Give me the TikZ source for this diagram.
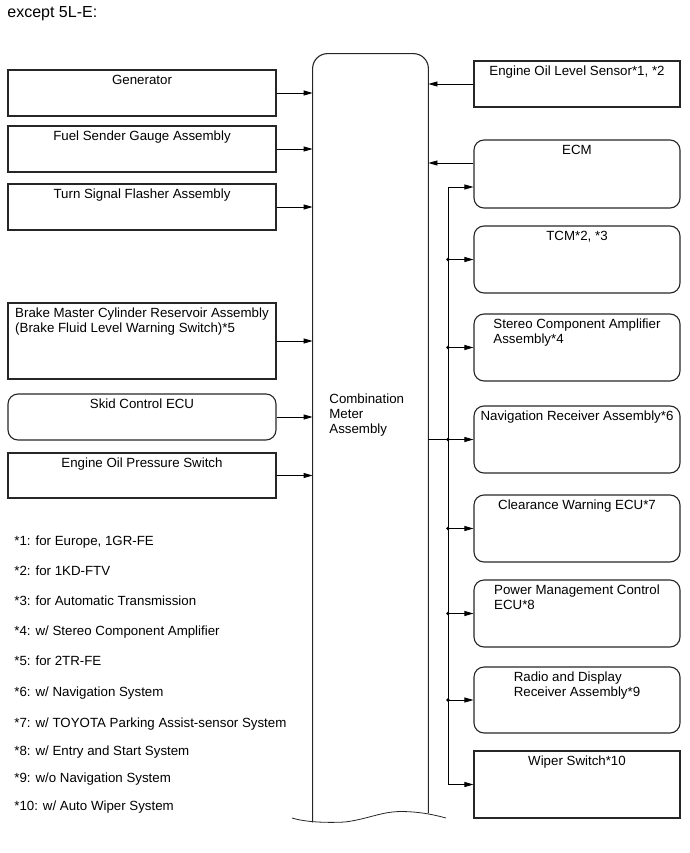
\documentclass[tikz,border=0pt]{standalone}
\usepackage{fontspec}
\setmainfont{Liberation Sans}
\usepackage{tikz}
\usetikzlibrary{arrows.meta,shapes}
\tikzstyle{outline}=[draw=black!85,line width=1.1pt]
\tikzstyle{box}=[outline,minimum height=46pt,inner sep=0pt]

\begin{document}
\begin{tikzpicture}[x=1pt,y=-1pt,line width=0.8pt,>={Triangle[length=9pt,width=5pt]},
    every node/.style={font=\fontsize{13.3}{15}\selectfont}]
    \tikzstyle{lbox}=[box,minimum width=268pt]
    \tikzstyle{rbox}=[box,minimum width=206pt,minimum height=67pt]
    \tikzstyle{lbl}=[anchor=north,inner sep=5pt,align=left]
    \tikzstyle{note}=[anchor=base west,inner sep=0pt]

    \useasboundingbox (0,0) rectangle (689,853);
    \node[note,font=\fontsize{16}{18}\selectfont] (title) at (7,18) {except 5L-E:};

    \node[lbox,label={[lbl]north:Generator}] (gen) at (142,93) {};
    \node[lbox,label={[lbl]north:Fuel Sender Gauge Assembly}] (fuel) at (142,149) {};
    \node[lbox,label={[lbl]north:Turn Signal Flasher Assembly}] (turn) at (142,207) {};
    \node[lbox,minimum height=76pt,label={[lbl]north:{Brake Master Cylinder Reservoir Assembly\\(Brake Fluid Level Warning Switch)*5}}] (brake) at (142,341) {};
    \node[lbox,rounded corners=10pt,label={[lbl]north:Skid Control ECU}] (skid) at (142,417) {};
    \node[lbox,minimum height=45pt,label={[lbl]north:Engine Oil Pressure Switch}] (oilp) at (142,475.5) {};

    \node[rbox,minimum height=46pt,label={[lbl]north:{Engine Oil Level Sensor*1, *2}}] (eols) at (577,84) {};
    \node[rbox,rounded corners=10pt,minimum height=68pt,label={[lbl]north:ECM}] (ecm) at (577,174) {};
    \node[rbox,rounded corners=10pt,label={[lbl]north:{TCM*2, *3}}] (tcm) at (577,259.5) {};
    \node[rbox,rounded corners=10pt,label={[lbl]north:{Stereo Component Amplifier\\Assembly*4}}] (stereo) at (577,347.5) {};
    \node[rbox,rounded corners=10pt,label={[lbl]north:Navigation Receiver Assembly*6}] (nav) at (577,439.5) {};
    \node[rbox,rounded corners=10pt,label={[lbl]north:Clearance Warning ECU*7}] (clear) at (577,528.5) {};
    \node[rbox,rounded corners=10pt,label={[lbl]north:{Power Management Control\\ECU*8}}] (power) at (577,613.5) {};
    \node[rbox,rounded corners=10pt,minimum height=66pt,label={[lbl]north:{Radio and Display\\Receiver Assembly*9}}] (radio) at (577,700) {};
    \node[rbox,label={[lbl]north:Wiper Switch*10}] (wiper) at (577,784.5) {};

    \node[minimum width=115pt,minimum height=768pt,inner sep=0pt] (meter) at (370.5,438) {};
    \draw[outline,rounded corners=15pt] (meter.south west) -- (meter.north west) -- (meter.north east) -- ([yshift=9pt]meter.south east);
    \draw[draw=black!85] (292,818) .. controls (305,822) and (325,823) .. (345,822)
        .. controls (368,819) and (380,812) .. (400,811.5) .. controls (420,811.5) and (435,815) .. (446,818);
    \node[anchor=north west,inner sep=0pt,align=left] (mlbl) at (329,393.5) {Combination\\Meter\\Assembly};

    \draw[->] (gen.east) -- (gen.east -| meter.west);
    \draw[->] (fuel.east) -- (fuel.east -| meter.west);
    \draw[->] (turn.east) -- (turn.east -| meter.west);
    \draw[->] (brake.east) -- (brake.east -| meter.west);
    \draw[->] (skid.east) -- (skid.east -| meter.west);
    \draw[->] (oilp.east) -- (oilp.east -| meter.west);

    \draw[->] (eols.west) -- (eols.west -| meter.east);
    \draw[->] ([yshift=11pt]ecm.west) -- ([yshift=11pt]ecm.west -| meter.east);

    \coordinate (bt) at (448,187);
    \draw[<->] (bt -| ecm.west) -- (bt) -- (bt |- wiper.west) -- (wiper.west);
    \draw (meter.east |- nav.west) -- (nav.west -| bt);

    \draw[->] (tcm.west -| bt) -- (tcm.west);
    \draw[->] (stereo.west -| bt) -- (stereo.west);
    \draw[->] (nav.west -| bt) -- (nav.west);
    \draw[->] (clear.west -| bt) -- (clear.west);
    \draw[->] (power.west -| bt) -- (power.west);
    \draw[->] (radio.west -| bt) -- (radio.west);
    \fill (tcm.west -| bt) circle (1.8pt);
    \fill (stereo.west -| bt) circle (1.8pt);
    \fill (nav.west -| bt) circle (1.8pt);
    \fill (clear.west -| bt) circle (1.8pt);
    \fill (power.west -| bt) circle (1.8pt);
    \fill (radio.west -| bt) circle (1.8pt);

    \node[note] (fn1) at (14,545) {*1: for Europe, 1GR-FE};
    \node[note] (fn2) at (14,575) {*2: for 1KD-FTV};
    \node[note] (fn3) at (14,605) {*3: for Automatic Transmission};
    \node[note] (fn4) at (14,635) {*4: w/ Stereo Component Amplifier};
    \node[note] (fn5) at (14,665) {*5: for 2TR-FE};
    \node[note] (fn6) at (14,696) {*6: w/ Navigation System};
    \node[note] (fn7) at (14,727) {*7: w/ TOYOTA Parking Assist-sensor System};
    \node[note] (fn8) at (14,755) {*8: w/ Entry and Start System};
    \node[note] (fn9) at (14,782) {*9: w/o Navigation System};
    \node[note] (fn10) at (14,810) {*10: w/ Auto Wiper System};
\end{tikzpicture}
\end{document}
